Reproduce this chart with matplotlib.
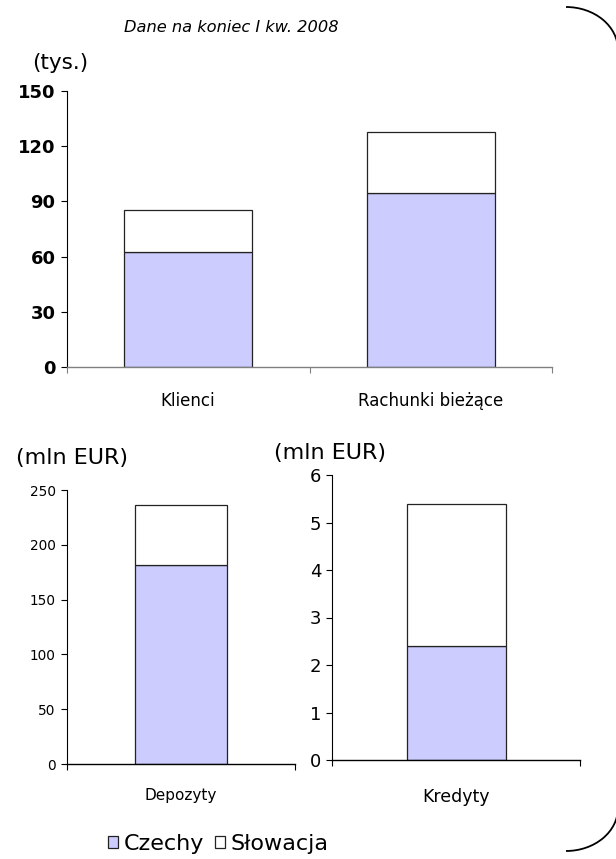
import matplotlib
matplotlib.use("Agg")
import matplotlib.pyplot as plt
from matplotlib.patches import Patch, Arc
import numpy as np

plt.rcParams['font.family'] = ['DejaVu Sans']

# data
top_categories = ["Klienci", "Rachunki bieżące"]
top_czechy = [62.5, 94.5]
top_slowacja = [22.6, 33.2]
top_ticks = [0, 30, 60, 90, 120, 150]

dep_category = ["Depozyty"]
dep_czechy = [181.5]
dep_slowacja = [55.0]
dep_ticks = [0, 50, 100, 150, 200, 250]

kred_category = ["Kredyty"]
kred_czechy = [2.4]
kred_slowacja = [3.0]
kred_ticks = [0, 1, 2, 3, 4, 5, 6]

CZ_COLOR = "#CCCCFF"
SK_COLOR = "#FFFFFF"
EDGE = "#222222"

W, H = 616, 859
fig = plt.figure(figsize=(W / 100, H / 100), dpi=100)


def px_axes(left, top, right, bottom):
    return fig.add_axes([left / W, 1 - bottom / H, (right - left) / W, (bottom - top) / H])


def stacked(ax, cats, cz, sk, ticks, width, xcolor, tick_size, tick_weight, cat_size, cat_pad):
    x = np.arange(len(cats))
    ax.bar(x, cz, width, color=CZ_COLOR, edgecolor=EDGE, linewidth=0.9, zorder=2)
    ax.bar(x, sk, width, bottom=cz, color=SK_COLOR, edgecolor=EDGE, linewidth=0.9, zorder=2)
    ax.set_xlim(-0.5, len(cats) - 0.5)
    ax.set_ylim(ticks[0], ticks[-1])
    ax.set_yticks(ticks)
    ax.set_yticklabels([str(t) for t in ticks], fontsize=tick_size, fontweight=tick_weight)
    ax.tick_params(axis="y", direction="out", length=4, width=0.8, pad=4)
    ax.set_xticks(np.arange(len(cats) + 1) - 0.5)
    ax.set_xticklabels([])
    ax.tick_params(axis="x", which="major", direction="out", length=4, width=0.8, color=xcolor)
    ax.set_xticks(x, minor=True)
    ax.set_xticklabels(cats, minor=True, fontsize=cat_size)
    ax.tick_params(axis="x", which="minor", length=0, pad=cat_pad)
    for s in ["top", "right"]:
        ax.spines[s].set_visible(False)
    ax.spines["left"].set_linewidth(0.8)
    ax.spines["bottom"].set_linewidth(1.0)
    ax.spines["bottom"].set_color(xcolor)
    ax.spines["bottom"].set_zorder(3)


ax1 = px_axes(66.7, 90.7, 552.3, 367.3)
stacked(ax1, top_categories, top_czechy, top_slowacja, top_ticks, 0.525,
        "#808080", 13, "bold", 12, 18)

ax2 = px_axes(66.7, 490, 295, 764)
stacked(ax2, dep_category, dep_czechy, dep_slowacja, dep_ticks, 0.4,
        "black", 9.8, "normal", 11, 17)

ax3 = px_axes(332.3, 475, 580, 760)
stacked(ax3, kred_category, kred_czechy, kred_slowacja, kred_ticks, 0.4,
        "black", 13, "normal", 12.5, 20)

fig.text(231 / W, 1 - 27 / H, "Dane na koniec I kw. 2008", fontsize=11.7, style="italic",
         ha="center", va="center")
fig.text(60 / W, 1 - 63 / H, "(tys.)", fontsize=15.5, ha="center", va="center")
fig.text(72 / W, 1 - 458 / H, "(mln EUR)", fontsize=16, ha="center", va="center")
fig.text(330 / W, 1 - 453 / H, "(mln EUR)", fontsize=16, ha="center", va="center")

handles = [Patch(facecolor=CZ_COLOR, edgecolor=EDGE, linewidth=0.9),
           Patch(facecolor=SK_COLOR, edgecolor=EDGE, linewidth=0.9)]
fig.legend(handles, ["Czechy", "Słowacja"], loc="center", bbox_to_anchor=(218 / W, 1 - 844 / H),
           ncol=2, frameon=False, fontsize=16, handlelength=0.45, handleheight=0.45,
           handletextpad=0.25, columnspacing=0.5, borderpad=0)

# bracket on the right edge
fig.add_artist(Arc((566 / W, 1 - 50 / H), 2 * 52 / W, 2 * 43 / H, theta1=0, theta2=90,
                   transform=fig.transFigure, color="black", linewidth=1.3))
fig.add_artist(Arc((566 / W, 1 - 808 / H), 2 * 52 / W, 2 * 43 / H, theta1=270, theta2=360,
                   transform=fig.transFigure, color="black", linewidth=1.3))

fig.savefig("out.png", dpi=100)
